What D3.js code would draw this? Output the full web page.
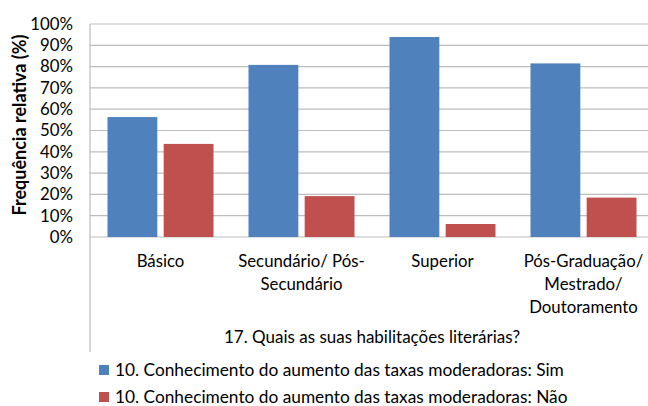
<!DOCTYPE html>
<html>
<head>
<meta charset="utf-8">
<script src="https://cdn.jsdelivr.net/npm/d3@7"></script>
<style>
  body { margin: 0; background: #fff; }
  text { font-family: Lato, "Open Sans", sans-serif; fill: #000; }
</style>
</head>
<body>
<svg id="chart" width="648" height="406"></svg>
<script>
const categories = [["Básico"], ["Secundário/ Pós-", "Secundário"], ["Superior"], ["Pós-Graduação/", "Mestrado/", "Doutoramento"]];
const seriesNames = ["10. Conhecimento do aumento das taxas moderadoras: Sim", "10. Conhecimento do aumento das taxas moderadoras: Não"];
const sim = [56.3, 80.8, 93.9, 81.5];
const nao = [43.7, 19.2, 6.1, 18.5];
const yTicks = [0, 10, 20, 30, 40, 50, 60, 70, 80, 90, 100];
const colors = ["#4F81BD", "#C0504D"];

const margin = {top: 24, left: 90};
const width = 564, height = 213;
const fs = "16.8px";

const svg = d3.select("#chart");
const g = svg.append("g").attr("transform", `translate(${margin.left},${margin.top})`);

const x = d3.scaleBand().domain(d3.range(categories.length)).range([0, width]);
const xInner = d3.scaleBand().domain([0, 1]).range([17.5, x.bandwidth() - 17.5]).paddingInner(12 / 106);
const y = d3.scaleLinear().domain([0, 100]).range([height, 0]);

// gridlines
g.selectAll(".grid").data(yTicks).enter().append("line")
  .attr("x1", 0).attr("x2", width)
  .attr("y1", d => y(d)).attr("y2", d => y(d))
  .attr("stroke", "#bdbdbd").attr("stroke-width", 1.2);

// y axis labels
const yAxis = d3.axisLeft(y).tickValues(yTicks).tickFormat(d => d + "%").tickSize(0).tickPadding(17);
g.append("g").call(yAxis)
  .call(a => a.select(".domain").remove())
  .selectAll("text").style("font-size", fs).attr("font-family", null);

// left axis line, extending below plot
g.append("line").attr("x1", 0).attr("x2", 0).attr("y1", 0).attr("y2", 328)
  .attr("stroke", "#bdbdbd").attr("stroke-width", 1.2);

// bars
const data = categories.map((c, i) => [sim[i], nao[i]]);
const groups = g.selectAll(".grp").data(data).enter().append("g")
  .attr("transform", (d, i) => `translate(${x(i)},0)`);
groups.selectAll("rect").data(d => d).enter().append("rect")
  .attr("x", (d, j) => xInner(j))
  .attr("width", xInner.bandwidth())
  .attr("y", d => y(d))
  .attr("height", d => height - y(d))
  .attr("fill", (d, j) => colors[j]);

// category labels
categories.forEach((lines, i) => {
  const cx = x(i) + x.bandwidth() / 2;
  const t = g.append("text")
    .attr("x", cx)
    .attr("y", height + 30)
    .attr("text-anchor", "middle")
    .style("font-size", fs);
  lines.forEach((l, k) => t.append("tspan").attr("x", cx).attr("dy", k ? 23 : 0).text(l));
});

// x axis title
svg.append("text").attr("x", 372).attr("y", 343).attr("text-anchor", "middle")
  .style("font-size", "17px").text("17. Quais as suas habilitações literárias?");

// y axis title
svg.append("text").attr("transform", "translate(26,125) rotate(-90)")
  .attr("text-anchor", "middle").style("font-size", "18px").style("font-weight", "bold")
  .text("Frequência relativa (%)");

// legend
seriesNames.forEach((s, i) => {
  const ly = 371 + i * 27;
  svg.append("rect").attr("x", 99).attr("y", ly - 6).attr("width", 10).attr("height", 10).attr("fill", colors[i]);
  svg.append("text").attr("x", 115).attr("y", ly + 5).style("font-size", "17.3px").text(s);
});
</script>
</body>
</html>
